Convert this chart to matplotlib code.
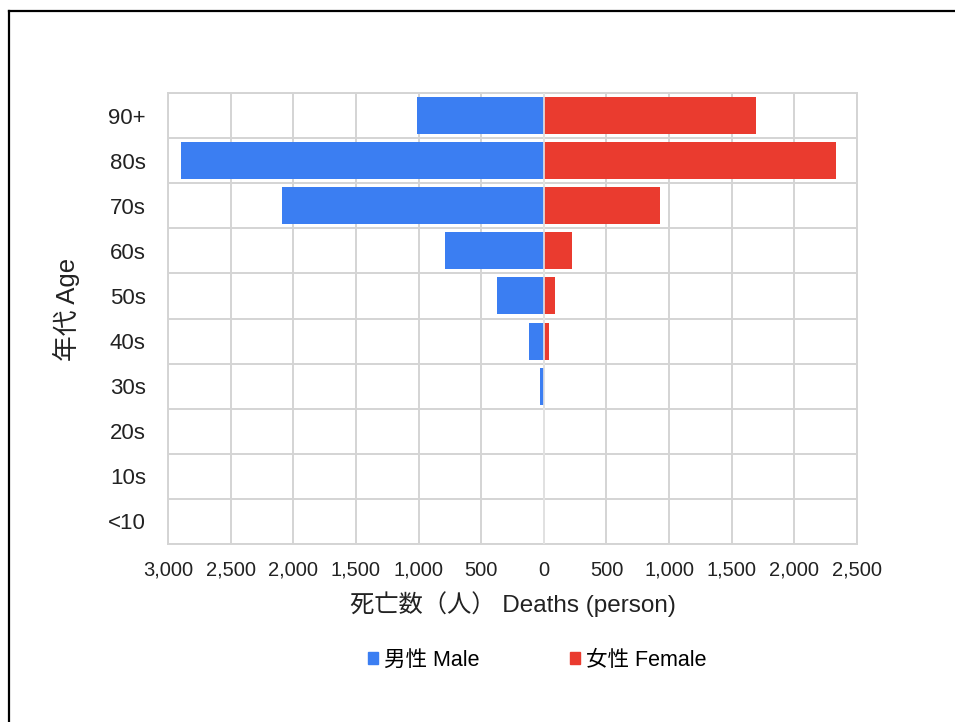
import numpy as np
import matplotlib
matplotlib.use("Agg")
import matplotlib.pyplot as plt
from matplotlib.patches import Patch
from matplotlib.lines import Line2D
from matplotlib.ticker import FuncFormatter

plt.rcParams['font.family'] = ['Liberation Sans', 'Noto Sans CJK JP', 'DejaVu Sans']

ages = ['<10', '10s', '20s', '30s', '40s', '50s', '60s', '70s', '80s', '90+']
male = [0, 0, 0, 30, 120, 370, 790, 2090, 2900, 1010]
female = [0, 0, 0, 0, 40, 90, 225, 930, 2330, 1690]
xticks = [-3000, -2500, -2000, -1500, -1000, -500, 0, 500, 1000, 1500, 2000, 2500]

blue = '#3b7ef2'
red = '#ea3b2f'
grid = '#d4d4d4'

fig = plt.figure(figsize=(9.55, 7.22), dpi=100)
ax = fig.add_axes([168/955, 1-544/722, (857-168)/955, (544-93)/722])

y = np.arange(len(ages))
ax.barh(y, -np.array(male), height=0.82, color=blue, zorder=3)
ax.barh(y, female, height=0.82, color=red, zorder=3)
ax.axvline(0, color='#e4e4e4', lw=1.2, zorder=4)

ax.set_xlim(-3000, 2500)
ax.set_ylim(-0.5, len(ages) - 0.5)
ax.set_xticks(xticks)
ax.xaxis.set_major_formatter(FuncFormatter(lambda v, p: f"{abs(int(v)):,}"))
ax.set_yticks(y)
ax.set_yticklabels(ages)
ax.set_yticks(np.arange(-0.5, len(ages), 1), minor=True)

ax.grid(axis='x', which='major', color=grid, lw=1.4, zorder=0)
ax.grid(axis='y', which='minor', color=grid, lw=1.4, zorder=0)
ax.tick_params(which='both', length=0)
ax.tick_params(axis='x', labelsize=14.5, pad=23, colors='#222222')
ax.tick_params(axis='y', labelsize=16, pad=16, colors='#222222')
for lbl in ax.get_xticklabels():
    lbl.set_verticalalignment('baseline')
for s in ax.spines.values():
    s.set_color(grid)
    s.set_linewidth(1.4)

ax.set_xlabel('死亡数（人） Deaths (person)', fontsize=17.5, color='#222222')
ax.xaxis.set_label_coords(0.5, -0.104)
ax.set_ylabel('年代 Age', fontsize=18.5, color='#222222')
ax.yaxis.set_label_coords(-0.128, 0.52)

handles = [Patch(color=blue, label='男性 Male'), Patch(color=red, label='女性 Female')]
fig.legend(handles=handles, loc='center', bbox_to_anchor=(537/955, 1-660/722), ncol=2,
           frameon=False, fontsize=15.5, handlelength=0.5, handleheight=0.5,
           handletextpad=0.25, columnspacing=4.2)

# black frame along left and top edge
fig.add_artist(Line2D([9/955, 9/955], [0, 1-11/722], color='black', lw=1.6, transform=fig.transFigure))
fig.add_artist(Line2D([9/955, 1], [1-11/722, 1-11/722], color='black', lw=1.6, transform=fig.transFigure))

fig.savefig('out.png', dpi=100)
